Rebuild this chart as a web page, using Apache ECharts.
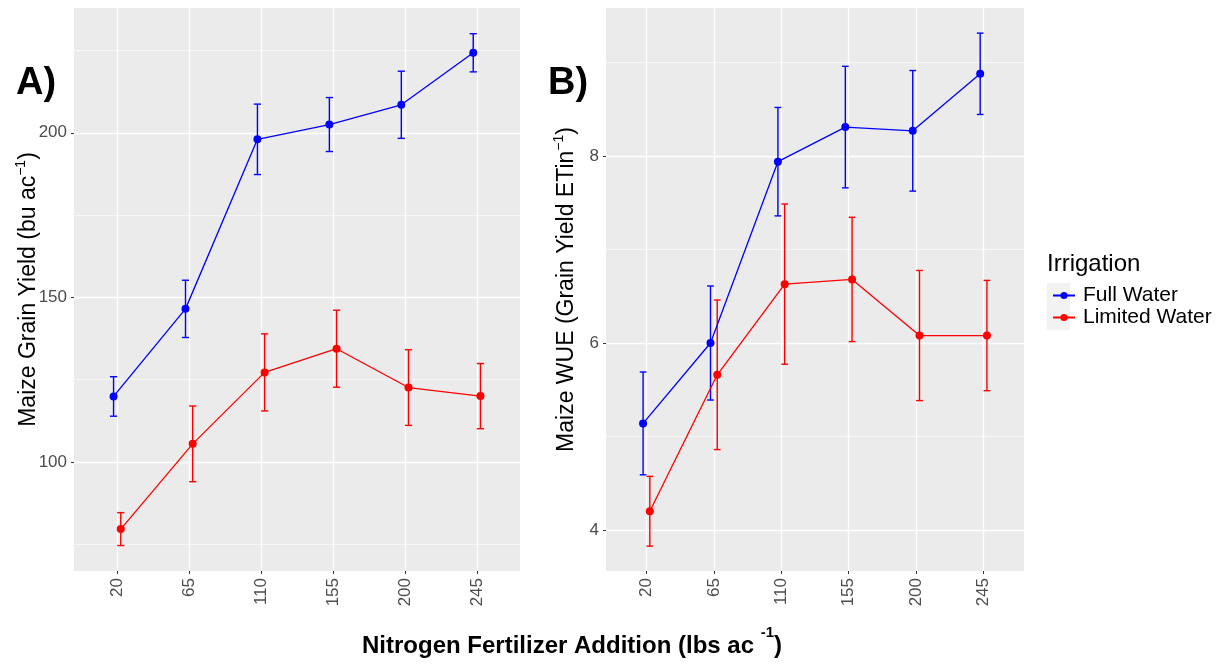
<!DOCTYPE html>
<html><head><meta charset="utf-8">
<script src="https://cdn.jsdelivr.net/npm/echarts@6/dist/echarts.min.js"></script>
<style>html,body{margin:0;padding:0;background:#fff}#c{width:1223px;height:665px}</style>
</head><body><div id="c"></div>
<script>
// ---- data ----
const categories = ['20', '65', '110', '155', '200', '245'];
const yieldFull = [119.9, 146.5, 198.0, 202.5, 208.5, 224.3];
const yieldFullErr = [6.0, 8.7, 10.7, 8.2, 10.2, 5.8];
const yieldLimited = [79.6, 105.5, 127.2, 134.4, 122.6, 120.0];
const yieldLimitedErr = [5.0, 11.5, 11.7, 11.7, 11.5, 9.9];
const wueFull = [5.14, 6.00, 7.94, 8.31, 8.27, 8.88];
const wueFullErr = [0.55, 0.61, 0.58, 0.65, 0.645, 0.435];
const wueLimited = [4.20, 5.66, 6.63, 6.68, 6.08, 6.08];
const wueLimitedErr = [0.373, 0.80, 0.857, 0.665, 0.696, 0.59];
const yieldTicks = [100, 150, 200];
const yieldMinor = [75, 125, 175, 225];
const wueTicks = [4, 6, 8];
const wueMinor = [5, 7, 9];

// ---- styling ----
const BLUE = '#0000ff', RED = '#ff0000';
const TICK_FONT = '"Liberation Sans Narrow", "Liberation Sans", Arial, sans-serif';
const FONT = '"Liberation Sans", Arial, sans-serif';
const DODGE = 0.05, CAP = 0.05;
const catIdx = categories.map((c, i) => i);

function pts(vals, off) { return vals.map((v, i) => [i + off, v]); }
function errs(vals, e, off) { return vals.map((v, i) => [i + off, v - e[i], v + e[i]]); }

function errRender(color) {
  return function (params, api) {
    const x = api.value(0), lo = api.value(1), hi = api.value(2);
    const a = api.coord([x, hi]), b = api.coord([x, lo]);
    const l1 = api.coord([x - CAP, hi]), r1 = api.coord([x + CAP, hi]);
    const l2 = api.coord([x - CAP, lo]), r2 = api.coord([x + CAP, lo]);
    const st = { stroke: color, lineWidth: 1.4 };
    return { type: 'group', children: [
      { type: 'line', shape: { x1: a[0], y1: a[1], x2: b[0], y2: b[1] }, style: st },
      { type: 'line', shape: { x1: l1[0], y1: l1[1], x2: r1[0], y2: r1[1] }, style: st },
      { type: 'line', shape: { x1: l2[0], y1: l2[1], x2: r2[0], y2: r2[1] }, style: st }
    ]};
  };
}

function xAx(g) {
  return {
    type: 'value', gridIndex: g, min: -0.6, max: 5.6,
    axisLine: { show: false, onZero: false },
    axisTick: { show: true, length: 3, lineStyle: { color: '#333' }, customValues: catIdx },
    axisLabel: { customValues: catIdx, formatter: v => categories[Math.round(v)], rotate: 90, margin: 7,
      color: '#4d4d4d', fontSize: 17, fontFamily: TICK_FONT },
    splitLine: { show: true, lineStyle: { color: '#ffffff', width: 1.3 } }
  };
}
function yMajor(g, min, max, ticks, name, gap) {
  return {
    type: 'value', gridIndex: g, min: min, max: max,
    axisLine: { show: false, onZero: false },
    axisTick: { show: true, length: 3, lineStyle: { color: '#333' }, customValues: ticks },
    axisLabel: { customValues: ticks, margin: 7, color: '#4d4d4d', fontSize: 17, fontFamily: TICK_FONT },
    splitLine: { show: true, lineStyle: { color: '#ffffff', width: 1.3 } },
    name: name, nameLocation: 'middle', nameRotate: 90, nameGap: gap, nameMoveOverlap: false,
    nameTextStyle: { fontSize: 23, color: '#000', fontFamily: FONT, lineHeight: 30,
      rich: { sup: { fontSize: 14, color: '#000', fontFamily: FONT, verticalAlign: 'top', lineHeight: 14 } } }
  };
}
function yMinor(g, min, max, ticks) {
  return {
    type: 'value', gridIndex: g, min: min, max: max,
    axisLine: { show: false, onZero: false },
    axisTick: { show: false, customValues: ticks },
    axisLabel: { show: false, customValues: ticks },
    splitLine: { show: true, lineStyle: { color: '#ffffff', width: 0.6 } }
  };
}
function lineSeries(name, xi, yi, vals, off, color) {
  return { type: 'line', name: name, xAxisIndex: xi, yAxisIndex: yi, data: pts(vals, off),
    symbol: 'circle', symbolSize: 8, showSymbol: true, itemStyle: { color: color },
    lineStyle: { color: color, width: 1.3 }, z: 3, animation: false };
}
function errSeries(name, xi, yi, vals, e, off, color) {
  return { type: 'custom', name: name, xAxisIndex: xi, yAxisIndex: yi, data: errs(vals, e, off),
    renderItem: errRender(color), encode: { x: 0, y: [1, 2] }, z: 2, animation: false };
}

const chart = echarts.init(document.getElementById('c'), null, { renderer: 'canvas' });
chart.setOption({
  animation: false,
  backgroundColor: '#ffffff',
  grid: [
    { left: 74, right: 703, top: 8, bottom: 94, show: true, backgroundColor: '#ebebeb', borderWidth: 0 },
    { left: 606, right: 199, top: 8, bottom: 94, show: true, backgroundColor: '#ebebeb', borderWidth: 0 }
  ],
  xAxis: [xAx(0), xAx(1)],
  yAxis: [
    yMajor(0, 66.87, 237.9, yieldTicks, 'Maize Grain Yield (bu ac{sup|−1})', 30),
    yMinor(0, 66.87, 237.9, yieldMinor),
    yMajor(1, 3.561, 9.584, wueTicks, 'Maize WUE (Grain Yield ETin{sup|−1})', 24),
    yMinor(1, 3.561, 9.584, wueMinor)
  ],
  legend: {
    data: ['Full Water', 'Limited Water'], orient: 'vertical', left: 1047, top: 280,
    itemWidth: 22, itemHeight: 9, itemGap: 1, selectedMode: false,
    textStyle: { fontSize: 21, color: '#000', fontFamily: FONT, padding: [0, 0, 0, 3], lineHeight: 21 }
  },
  series: [
    lineSeries('Full Water', 0, 0, yieldFull, -DODGE, BLUE),
    lineSeries('Limited Water', 0, 0, yieldLimited, DODGE, RED),
    errSeries('Full Water err', 0, 0, yieldFull, yieldFullErr, -DODGE, BLUE),
    errSeries('Limited Water err', 0, 0, yieldLimited, yieldLimitedErr, DODGE, RED),
    lineSeries('Full Water', 1, 2, wueFull, -DODGE, BLUE),
    lineSeries('Limited Water', 1, 2, wueLimited, DODGE, RED),
    errSeries('Full Water err', 1, 2, wueFull, wueFullErr, -DODGE, BLUE),
    errSeries('Limited Water err', 1, 2, wueLimited, wueLimitedErr, DODGE, RED)
  ],
  graphic: [
    { type: 'rect', shape: { x: 1047, y: 283, width: 23, height: 47 }, style: { fill: '#f2f2f2' }, z: 0 },
    { type: 'text', left: 1047, top: 252, style: { text: 'Irrigation', fontSize: 24, fontFamily: FONT, fill: '#000' } },
    { type: 'text', left: 16, top: 65, style: { text: 'A)', fontSize: 38, fontWeight: 'bold', fontFamily: FONT, fill: '#000' } },
    { type: 'text', left: 548, top: 65, style: { text: 'B)', fontSize: 38, fontWeight: 'bold', fontFamily: FONT, fill: '#000' } },
    { type: 'text', left: 362, top: 625, style: {
      text: 'Nitrogen Fertilizer Addition (lbs ac {sup|-1})', fontSize: 24, fontWeight: 'bold', fontFamily: FONT,
      fill: '#000', lineHeight: 42,
      rich: { sup: { fontSize: 15, fontWeight: 'bold', fontFamily: FONT, fill: '#000', verticalAlign: 'top', lineHeight: 16 } }
    } }
  ]
});
</script>
</body></html>
